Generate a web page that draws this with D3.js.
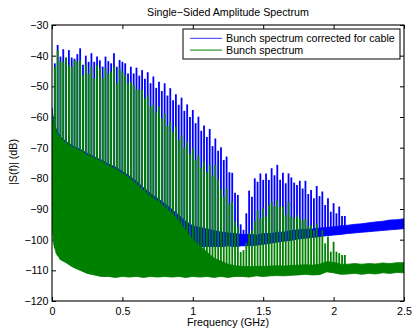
<!DOCTYPE html>
<html>
<head>
<meta charset="utf-8">
<script src="https://cdn.jsdelivr.net/npm/d3@7"></script>
<style>
  html, body { margin: 0; padding: 0; background: #fff; }
  svg text { font-family: "Liberation Sans", Arial, Helvetica, sans-serif; font-size: 10.7px; fill: #000; }
</style>
</head>
<body>
<div id="chart"></div>
<script>
// Harmonic lines of the bunch spectrum (GHz)
const harmonicGHz = [
  0.02, 0.04, 0.06, 0.08, 0.10, 0.12, 0.14, 0.16, 0.18, 0.20,
  0.22, 0.24, 0.26, 0.28, 0.30, 0.32, 0.34, 0.36, 0.38, 0.40,
  0.42, 0.44, 0.46, 0.48, 0.50, 0.52, 0.54, 0.56, 0.58, 0.60,
  0.62, 0.64, 0.66, 0.68, 0.70, 0.72, 0.74, 0.76, 0.78, 0.80,
  0.82, 0.84, 0.86, 0.88, 0.90, 0.92, 0.94, 0.96, 0.98, 1.00,
  1.02, 1.04, 1.06, 1.08, 1.10, 1.12, 1.14, 1.16, 1.18, 1.20,
  1.22, 1.24, 1.26, 1.28, 1.30, 1.32, 1.34, 1.36, 1.38, 1.40,
  1.42, 1.44, 1.46, 1.48, 1.50, 1.52, 1.54, 1.56, 1.58, 1.60,
  1.62, 1.64, 1.66, 1.68, 1.70, 1.72, 1.74, 1.76, 1.78, 1.80,
  1.82, 1.84, 1.86, 1.88, 1.90, 1.92, 1.94, 1.96, 1.98, 2.00,
  2.02, 2.04, 2.06, 2.08
];

// Peak heights (dB), spectrum corrected for cable
const correctedPeakDb = [
  -42.5, -36.5, -40.3, -37.9, -40.8, -38.2, -40.6, -41.0, -39.5, -37.6,
  -43.0, -40.0, -42.0, -39.2, -42.0, -40.3, -41.5, -43.6, -40.3, -41.8,
  -42.5, -39.2, -43.6, -41.4, -42.0, -42.5, -45.8, -43.6, -45.8, -43.9,
  -46.5, -44.7, -47.5, -45.4, -49.0, -46.8, -50.5, -48.5, -51.5, -49.0,
  -53.0, -50.6, -54.5, -52.6, -56.0, -53.7, -58.0, -55.9, -60.0, -57.7,
  -62.0, -59.9, -64.5, -62.8, -66.5, -63.9, -69.5, -67.0, -71.0, -69.9,
  -74.0, -72.9, -78.0, -78.2, -84.7, -85.4, -95.0, -96.8, -91.4, -84.0,
  -86.0, -80.0, -81.1, -78.4, -80.5, -78.4, -80.5, -76.7, -79.0, -75.6,
  -80.5, -78.2, -81.6, -78.4, -79.7, -81.4, -82.2, -80.8, -83.3, -80.8,
  -85.1, -83.8, -86.5, -82.5, -85.8, -84.3, -88.7, -86.5, -90.9, -88.1,
  -91.4, -89.2, -92.3, -92.3
];

// Peak heights (dB), raw bunch spectrum
const bunchPeakDb = [
  -43.6, -38.2, -41.8, -42.0, -40.5, -43.0, -43.6, -41.4, -42.0, -41.4,
  -46.4, -43.0, -45.8, -43.6, -47.4, -43.0, -44.1, -47.4, -44.1, -45.8,
  -45.2, -43.6, -49.0, -44.1, -45.2, -46.3, -49.0, -48.5, -49.6, -51.0,
  -51.0, -51.2, -54.0, -52.8, -56.5, -56.0, -58.5, -56.6, -60.5, -58.8,
  -63.0, -61.5, -65.0, -63.2, -67.5, -65.9, -70.0, -68.0, -72.0, -70.2,
  -74.0, -72.4, -76.5, -74.6, -78.0, -75.6, -79.0, -75.6, -80.3, -83.6,
  -86.0, -83.2, -88.4, -87.6, -94.1, -95.7, -104.0, -103.4, -101.0, -97.9,
  -97.0, -94.1, -90.3, -93.0, -89.8, -92.5, -88.7, -87.6, -89.2, -87.1,
  -89.2, -89.2, -91.9, -87.6, -92.5, -93.0, -92.0, -93.0, -93.6, -93.0,
  -95.7, -95.2, -96.8, -94.9, -99.0, -96.8, -101.2, -99.0, -103.9, -100.7,
  -103.9, -104.4, -105.0, -105.0
];

// Noise floor between harmonics, sampled along frequency (GHz)
const floorGHz = [
  0, 0.01, 0.03, 0.06, 0.10, 0.15, 0.20, 0.25, 0.30, 0.35, 0.40, 0.45, 0.50,
  0.55, 0.60, 0.65, 0.70, 0.75, 0.80, 0.85, 0.90, 0.95, 1.00,
  1.05, 1.10, 1.15, 1.20, 1.25, 1.30, 1.35, 1.40, 1.45, 1.50,
  1.55, 1.60, 1.65, 1.70, 1.75, 1.80, 1.85, 1.90, 1.95, 2.00,
  2.05, 2.10, 2.15, 2.20, 2.25, 2.30, 2.35, 2.40, 2.45, 2.50
];
const correctedFloorHiDb = [
  -57, -61, -64, -66.5, -68, -69.5, -70.5, -71.8, -73, -74, -75.3, -76.3, -77.8,
  -79.2, -81, -83, -85, -86.5, -88.3, -90, -92, -94, -95.5,
  -96, -96.5, -97, -97.5, -97.8, -98, -98.3, -98.2, -98.5, -98,
  -98, -97.6, -97.5, -97, -96.8, -96.6, -96.5, -96.2, -96, -95.8,
  -95.5, -95.3, -95, -94.8, -94.5, -94.2, -94, -93.6, -93.5, -93.2
];
const correctedFloorLoDb = [
  -92, -98, -101, -103, -104, -105, -105.5, -106, -106, -106, -106, -106, -106,
  -105.5, -105.5, -105, -105, -104.5, -104, -103.5, -103, -102.5, -102.3,
  -102.3, -102.2, -102.2, -102.3, -102, -102.3, -102, -102, -101.8, -101.5,
  -101.2, -100.8, -100.5, -100.2, -99.8, -99.5, -99.3, -99, -98.7, -98.5,
  -98.3, -98, -97.8, -97.6, -97.4, -97.2, -97, -96.8, -96.6, -96.4
];
const bunchFloorHiDb = [
  -58, -62, -65, -67, -68.5, -70, -71, -72.5, -73.5, -74.5, -76, -77, -78.5,
  -80, -82, -84, -86, -87.5, -89.5, -91.5, -94, -97, -100,
  -102, -104, -106, -107, -108, -108.5, -108.7, -108.8, -108.7, -108.7,
  -108.6, -108.5, -108.6, -108.4, -108.3, -108.2, -108.3, -108, -107.2, -107.4,
  -108, -108, -107.8, -108, -107.8, -107.9, -107.6, -107.8, -107.5, -107.5
];
const bunchFloorLoDb = [
  -95, -101, -104.5, -106.5, -107.5, -109, -110, -111, -111.5, -112, -112, -112.3, -112,
  -112.2, -112, -112.3, -112, -112.2, -112, -112.2, -112, -112.3, -112,
  -112.2, -112, -112.3, -112, -112.3, -112, -112, -112.2, -111.8, -112,
  -111.8, -111.7, -111.8, -111.6, -111.5, -111.3, -111.5, -111.4, -110.5, -110.8,
  -111.3, -111.2, -111.0, -111.3, -111.0, -111.2, -110.8, -111.0, -110.7, -110.8
];

const xTicks = [0, 0.5, 1, 1.5, 2, 2.5];
const yTicks = [-120, -110, -100, -90, -80, -70, -60, -50, -40, -30];
const seriesNames = ['Bunch spectrum corrected for cable', 'Bunch spectrum'];

const blue = '#0000ff';
const green = '#008000';

// Margins around the drawing area
const margin = { top: 25, right: 8, bottom: 28, left: 52 };
const width = 412 - margin.left - margin.right;
const height = 329 - margin.top - margin.bottom;

const svg = d3.select('#chart')
  .append('svg')
    .attr('width', 412)
    .attr('height', 329)
  .append('g')
    .attr('transform', `translate(${margin.left},${margin.top})`);

const x = d3.scaleLinear().domain([0, 2.5]).range([0, width]);
const y = d3.scaleLinear().domain([-120, -30]).range([height, 0]);

// piecewise scales for the floor, used to anchor the foot of each harmonic line
const correctedLo = d3.scaleLinear().domain(floorGHz).range(correctedFloorLoDb);
const bunchLo = d3.scaleLinear().domain(floorGHz).range(bunchFloorLoDb);

svg.append('clipPath').attr('id', 'plotClip')
  .append('rect').attr('width', width).attr('height', height);

// ticks on all four sides, pointing inward
const fmt = d => d3.format('~')(d);
const bottomAxis = svg.append('g').attr('transform', `translate(0,${height})`)
  .call(d3.axisBottom(x).tickValues(xTicks).tickFormat(fmt).tickSizeInner(-4).tickSizeOuter(0).tickPadding(6.5));
const topAxis = svg.append('g')
  .call(d3.axisTop(x).tickValues(xTicks).tickFormat('').tickSizeInner(-4).tickSizeOuter(0));
const leftAxis = svg.append('g')
  .call(d3.axisLeft(y).tickValues(yTicks).tickFormat(fmt).tickSizeInner(-4).tickSizeOuter(0).tickPadding(3.5));
const rightAxis = svg.append('g').attr('transform', `translate(${width},0)`)
  .call(d3.axisRight(y).tickValues(yTicks).tickFormat('').tickSizeInner(-4).tickSizeOuter(0));
[bottomAxis, topAxis, leftAxis, rightAxis].forEach(g => {
  g.select('.domain').remove();
  g.selectAll('line').attr('stroke', '#000');
  g.selectAll('text').attr('font-size', null).attr('font-family', null);
});

const plot = svg.append('g').attr('clip-path', 'url(#plotClip)');

function drawSeries(floorHi, floorLo, loScale, peaks, color) {
  const band = d3.area()
    .x((d, i) => x(floorGHz[i]))
    .y0((d, i) => y(floorLo[i]))
    .y1((d, i) => y(floorHi[i]));
  plot.append('path')
    .datum(floorGHz)
    .attr('d', band)
    .attr('fill', color)
    .attr('stroke', color)
    .attr('stroke-width', 0.8);

  plot.append('g').selectAll('line')
    .data(harmonicGHz)
    .join('line')
      .attr('x1', d => x(d)).attr('x2', d => x(d))
      .attr('y1', d => y(loScale(d)))
      .attr('y2', (d, i) => y(peaks[i]))
      .attr('stroke', color)
      .attr('stroke-width', 1.8);
}

// corrected spectrum first, raw bunch spectrum plotted over it
drawSeries(correctedFloorHiDb, correctedFloorLoDb, correctedLo, correctedPeakDb, blue);
drawSeries(bunchFloorHiDb, bunchFloorLoDb, bunchLo, bunchPeakDb, green);

// axes box
svg.append('rect')
  .attr('width', width).attr('height', height)
  .attr('fill', 'none').attr('stroke', '#000').attr('stroke-width', 1.1);

// titles
svg.append('text')
  .attr('x', width / 2).attr('y', -9)
  .attr('text-anchor', 'middle')
  .text('Single\u2212Sided Amplitude Spectrum');

svg.append('text')
  .attr('x', width / 2).attr('y', height + 25)
  .attr('text-anchor', 'middle')
  .text('Frequency (GHz)');

svg.append('text')
  .attr('transform', 'rotate(-90)')
  .attr('x', -(162 - margin.top)).attr('y', -35.5)
  .attr('text-anchor', 'middle')
  .text('|S(f)| (dB)');

// legend
const legend = svg.append('g').attr('transform', `translate(${183 - margin.left},${29 - margin.top})`);
legend.append('rect')
  .attr('width', 217).attr('height', 30)
  .attr('fill', '#fff').attr('stroke', '#000').attr('stroke-width', 1);
[blue, green].forEach((c, i) => {
  const ly = 9.3 + i * 11.8;
  legend.append('line')
    .attr('x1', 7).attr('x2', 39).attr('y1', ly).attr('y2', ly)
    .attr('stroke', c).attr('stroke-width', i === 0 ? 0.8 : 1);
  legend.append('text')
    .attr('x', 43).attr('y', ly + 4)
    .text(seriesNames[i]);
});
</script>
</body>
</html>
